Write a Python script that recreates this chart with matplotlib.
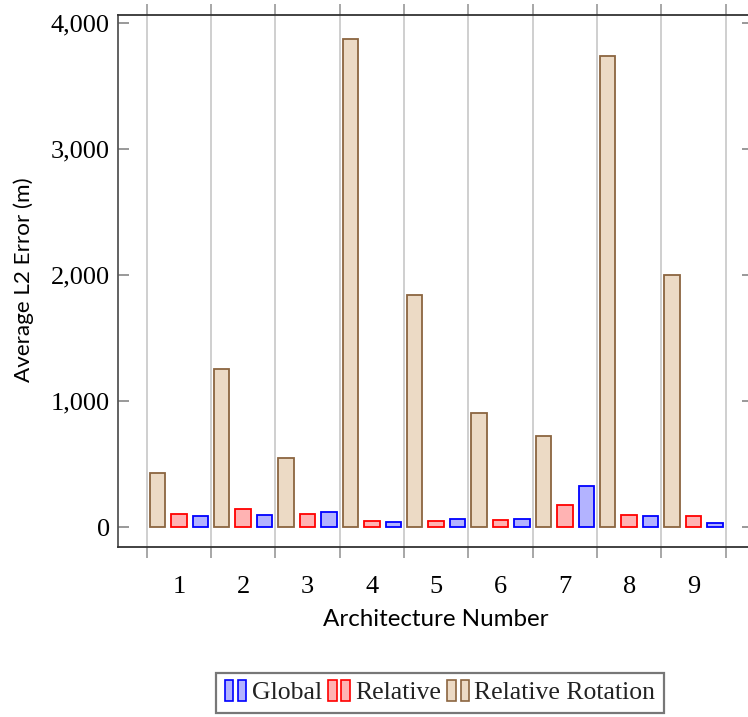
import matplotlib
matplotlib.use("Agg")
import matplotlib.pyplot as plt
import numpy as np
from matplotlib.patches import Rectangle
from matplotlib.legend_handler import HandlerBase

# ---- data ----
architectures = [1, 2, 3, 4, 5, 6, 7, 8, 9]
tick_labels = ["1", "2", "3", "4", "5", "6", "7", "8", "9"]
global_err = [90, 98, 121, 40, 63, 69, 325, 93, 32]
relative_err = [108, 148, 106, 52, 48, 56, 180, 95, 87]
relative_rotation_err = [428, 1254, 548, 3873, 1841, 905, 725, 3740, 2000]
series_names = ["Global", "Relative", "Relative Rotation"]
y_ticks = [0, 1000, 2000, 3000, 4000]
y_tick_labels = ["0", "1,000", "2,000", "3,000", "4,000"]

W, H = 748, 717
fig = plt.figure(figsize=(W / 100, H / 100), dpi=100)
ax = fig.add_axes([118 / W, 1 - 547.3 / H, (753 - 118) / W, (547.3 - 15) / H])

x = np.array(architectures, dtype=float)
bw = 0.24
off = 1 / 3
c_glob = dict(facecolor="#b3b3ff", edgecolor="#0000ff")
c_rel = dict(facecolor="#ffb3b3", edgecolor="#ff0000")
c_rot = dict(facecolor="#ecdac5", edgecolor="#8b6540")

b_rot = ax.bar(x - off, relative_rotation_err, bw, linewidth=1.3, zorder=3, **c_rot)
b_rel = ax.bar(x, relative_err, bw, linewidth=1.3, zorder=3, **c_rel)
b_glob = ax.bar(x + off, global_err, bw, linewidth=1.3, zorder=3, **c_glob)

ax.set_xlim(0.054, 9.925)
ax.set_ylim(-159, 4066)

# group boundaries as major ticks + grid
bounds = np.arange(0.5, 10.0, 1.0)
ax.set_xticks(bounds)
ax.set_xticklabels([])
ax.set_xticks(x, minor=True)
ax.set_xticklabels(tick_labels, minor=True, fontfamily="Liberation Serif", fontsize=19)
ax.tick_params(axis="x", which="major", direction="out", length=8, width=1.3,
               color="#a0a0a0", top=True, bottom=True)
ax.tick_params(axis="x", which="minor", length=0, pad=21)
ax.grid(axis="x", which="major", color="#cccccc", linewidth=1.3, zorder=0)

ax.set_yticks(y_ticks)
ax.set_yticklabels(y_tick_labels, fontfamily="Liberation Serif", fontsize=19)
ax.tick_params(axis="y", direction="in", length=8, width=1.2, color="#888888",
               left=True, right=True, pad=6)

for s in ["left", "bottom", "top", "right"]:
    ax.spines[s].set_color("#333333")
    ax.spines[s].set_linewidth(1.3)
ax.spines["left"].set_color("#555555")

ax.set_xlabel("Architecture Number", fontfamily="Lato", fontsize=17.4)
ax.xaxis.set_label_coords(0.5, (547.3 - 620) / 532.3)
ax.xaxis.label.set_va("center")
ax.set_ylabel("Average L2 Error (m)", fontfamily="Lato", fontsize=16.2)
ax.yaxis.set_label_coords((24 - 118) / 635, (547.3 - 280) / 532.3)
ax.yaxis.label.set_va("center")


class TwoBarHandler(HandlerBase):
    def create_artists(self, legend, orig_handle, xdescent, ydescent, width,
                       height, fontsize, trans):
        fc = orig_handle.get_facecolor()
        ec = orig_handle.get_edgecolor()
        w = width * 0.4
        hh = height * 1.15
        y0 = -ydescent - (hh - height) / 2
        r1 = Rectangle((-xdescent, y0), w, hh, facecolor=fc, edgecolor=ec,
                       linewidth=1.2, transform=trans)
        r2 = Rectangle((-xdescent + width - w, y0), w, hh, facecolor=fc,
                       edgecolor=ec, linewidth=1.2, transform=trans)
        return [r1, r2]


h = TwoBarHandler()
handles = [b_glob.patches[0], b_rel.patches[0], b_rot.patches[0]]
leg = fig.legend(handles, series_names,
                 loc="center", bbox_to_anchor=(440 / W, 1 - 693 / H), ncol=3,
                 handler_map={p: h for p in handles},
                 prop={"family": "Liberation Serif", "size": 18.5},
                 handlelength=0.85, handletextpad=0.2, columnspacing=0.25,
                 fancybox=False, borderpad=0.35, borderaxespad=0)
leg.get_frame().set_edgecolor("#555555")
leg.get_frame().set_linewidth(1.6)
for t in leg.get_texts():
    t.set_color("#222222")

fig.savefig("out.png", dpi=100)
